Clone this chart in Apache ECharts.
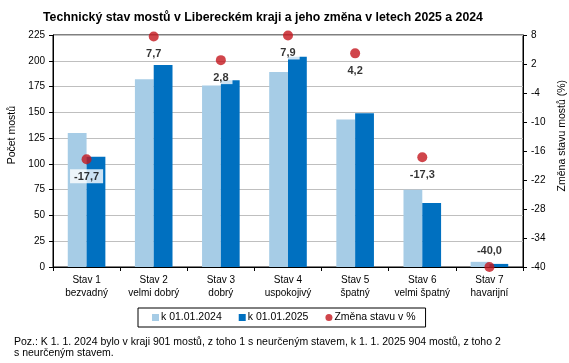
<!DOCTYPE html>
<html><head><meta charset="utf-8">
<script src="https://cdn.jsdelivr.net/npm/echarts@6/dist/echarts.min.js"></script>
<style>html,body{margin:0;padding:0;background:#fff}#c{width:569px;height:363px}</style>
</head><body><div id="c"></div>
<script>
const categories = ['Stav 1\nbezvadný','Stav 2\nvelmi dobrý','Stav 3\ndobrý','Stav 4\nuspokojivý','Stav 5\nšpatný','Stav 6\nvelmi špatný','Stav 7\nhavarijní'];
const count2024 = [130, 182, 176, 189, 143, 75, 5];
const count2025 = [107, 196, 181, 204, 149, 62, 3];
const changePct = [-17.7, 7.7, 2.8, 7.9, 4.2, -17.3, -40.0];
const seriesNames = ['k 01.01.2024', 'k 01.01.2025', 'Změna stavu v %'];

const FONT = '"Liberation Sans", Arial, sans-serif';
const chart = echarts.init(document.getElementById('c'), null, {renderer: 'canvas'});
const fmt = v => v.toFixed(1).replace('.', ',');

chart.setOption({
  animation: false,
  textStyle: {fontFamily: FONT, color: '#000'},
  title: {
    text: 'Technický stav mostů v Libereckém kraji a jeho změna v letech 2025 a 2024',
    left: 38, top: 7,
    textStyle: {fontFamily: FONT, fontSize: 12.3, fontWeight: 'bold', color: '#000'}
  },
  grid: {left: 53, right: 46, top: 35, bottom: 96, show: true, borderColor: '#000', borderWidth: 1},
  legend: {
    left: 138, top: 308,
    padding: [4, 10, 4, 14],
    borderColor: '#000', borderWidth: 1,
    itemWidth: 7, itemHeight: 7, itemGap: 17,
    textStyle: {fontFamily: FONT, fontSize: 10.5, color: '#000', padding: [0, 0, 0, -3]},
    data: [
      {name: seriesNames[0], icon: 'rect'},
      {name: seriesNames[1], icon: 'rect'},
      {name: seriesNames[2], icon: 'circle'}
    ]
  },
  xAxis: {
    type: 'category', data: categories,
    axisLine: {lineStyle: {color: '#000'}},
    axisTick: {show: true, alignWithLabel: false, length: 4, lineStyle: {color: '#000'}},
    axisLabel: {color: '#000', fontSize: 10, lineHeight: 13, margin: 7, interval: 0, fontFamily: FONT}
  },
  yAxis: [
    {
      type: 'value', min: 0, max: 225, interval: 25,
      axisLine: {show: true, lineStyle: {color: '#000'}},
      axisTick: {show: true, length: 4, lineStyle: {color: '#000'}},
      axisLabel: {color: '#000', fontSize: 10, margin: 8, fontFamily: FONT},
      splitLine: {lineStyle: {color: '#bfbfbf'}}
    },
    {
      type: 'value', min: -40, max: 8, interval: 6,
      axisLine: {show: true, lineStyle: {color: '#000'}},
      axisTick: {show: true, length: 4, lineStyle: {color: '#000'}},
      axisLabel: {color: '#000', fontSize: 10, margin: 8, fontFamily: FONT},
      splitLine: {show: false}
    }
  ],
  graphic: [
    {type: 'text', left: 7, top: 106, rotation: Math.PI / 2,
     style: {text: 'Počet mostů', font: '10.5px ' + FONT, fill: '#000'}},
    {type: 'text', right: 1, top: 80, rotation: Math.PI / 2,
     style: {text: 'Změna stavu mostů (%)', font: '10.5px ' + FONT, fill: '#000'}},
    {type: 'text', left: 14, top: 337,
     style: {text: 'Poz.: K 1. 1. 2024 bylo v kraji 901 mostů, z toho 1 s neurčeným stavem, k 1. 1. 2025 904 mostů, z toho 2\ns neurčeným stavem.',
             font: '10.5px ' + FONT, fill: '#000', lineHeight: 11}}
  ],
  series: [
    {name: seriesNames[0], type: 'bar', data: count2024, barWidth: '28%', barGap: '0%',
     itemStyle: {color: '#a6cce6'}},
    {name: seriesNames[1], type: 'bar', data: count2025, barWidth: '28%', barGap: '0%',
     itemStyle: {color: '#0070c0'}},
    {name: seriesNames[2], type: 'scatter', yAxisIndex: 1, symbolSize: 10, z: 5,
     itemStyle: {color: '#c4171e'},
     data: changePct.map((v, i) => ({
       value: v,
       label: {position: i === changePct.length - 1 ? 'top' : 'bottom'}
     })),
     label: {
       show: true, position: 'bottom', distance: 5,
       formatter: p => fmt(p.value),
       fontFamily: FONT, fontSize: 11, fontWeight: 'bold', color: '#000',
       backgroundColor: '#fff', padding: [2, 4, 1, 4]
     }}
  ]
});
</script></body></html>
